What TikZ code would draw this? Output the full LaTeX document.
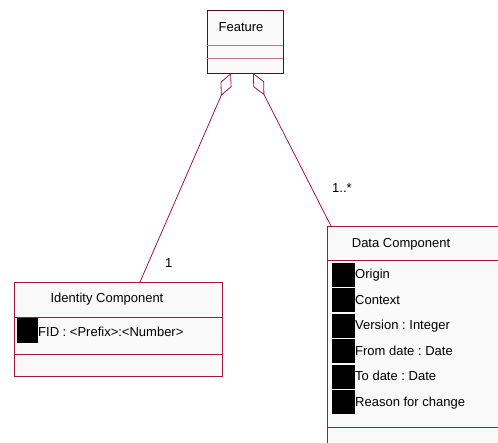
\documentclass[tikz,border=0pt]{standalone}
\usepackage{fontspec}
\setmainfont{Liberation Sans}
\usetikzlibrary{arrows.meta, positioning}

\definecolor{umlred}{RGB}{163,21,70}
\definecolor{umlfill}{RGB}{249,249,249}
\frenchspacing

\begin{document}
\begin{tikzpicture}[x=1pt, y=-1pt,
    classbox/.style={draw=umlred, fill=umlfill, line width=0.9pt, inner sep=0pt},
    label/.style={font=\fontsize{13}{15}\selectfont, inner sep=0pt},
    attr/.style={label, anchor=base west},
    hidden/.style={fill=black, draw=none},
    aggr/.style={{Diamond[open, length=25pt, width=12pt]}-, umlred, line width=0.8pt}]
    \useasboundingbox (0,0) rectangle (498,443);

    % Feature class
    \node[classbox, draw=umlred!55!black, minimum width=76pt, minimum height=63pt] (feature) at (245,41.5) {};
    \draw[umlred!60, line width=0.9pt] (207,45) -- (283,45);
    \draw[umlred!60, line width=0.9pt] (207,58) -- (283,58);
    \node[label, anchor=base] (featureName) at (241,31.5) {Feature};

    % Identity Component class
    \node[classbox, minimum width=208pt, minimum height=94pt] (identity) at (118,329) {};
    \draw[umlred, line width=0.8pt] (14,317) -- (222,317);
    \draw[umlred, line width=0.8pt] (14,354) -- (222,354);
    \node[label, anchor=base] (identityName) at (107,303) {Identity Component};
    \fill[hidden] (17,318) rectangle (38,343);
    \node[attr] (fid) at (38,337) {FID : <Prefix>:<Number>};

    % Data Component class (runs off the page)
    \node[classbox, minimum width=193pt, minimum height=244pt] (data) at (423.5,348) {};
    \draw[umlred, line width=0.8pt] (327,260) -- (520,260);
    \draw[umlred, line width=0.8pt] (327,427) -- (520,427);
    \node[label, anchor=base] (dataName) at (401,248) {Data Component};
    \foreach \y/\name/\txt in {279/origin/Origin, 304.5/context/Context,
        330/version/Version : Integer, 355.5/fromdate/From date : Date,
        381/todate/To date : Date, 406.5/reason/Reason for change} {
        \fill[hidden] (332,\y-16) rectangle (355,\y+8);
        \node[attr] (\name) at (355,\y) {\txt};
    }

    % Aggregations
    \coordinate (featLeft) at (231,73);
    \coordinate (featRight) at (253,73);
    \coordinate (identityTop) at (140,282);
    \coordinate (dataTop) at (331,226);
    \draw[aggr] (featLeft) -- (identityTop);
    \draw[aggr] (featRight) -- (dataTop);

    % Multiplicities
    \node[label, anchor=base west] (multOne) at (165,268) {1};
    \node[label, anchor=base west] (multMany) at (332,193) {1..*};
\end{tikzpicture}
\end{document}
